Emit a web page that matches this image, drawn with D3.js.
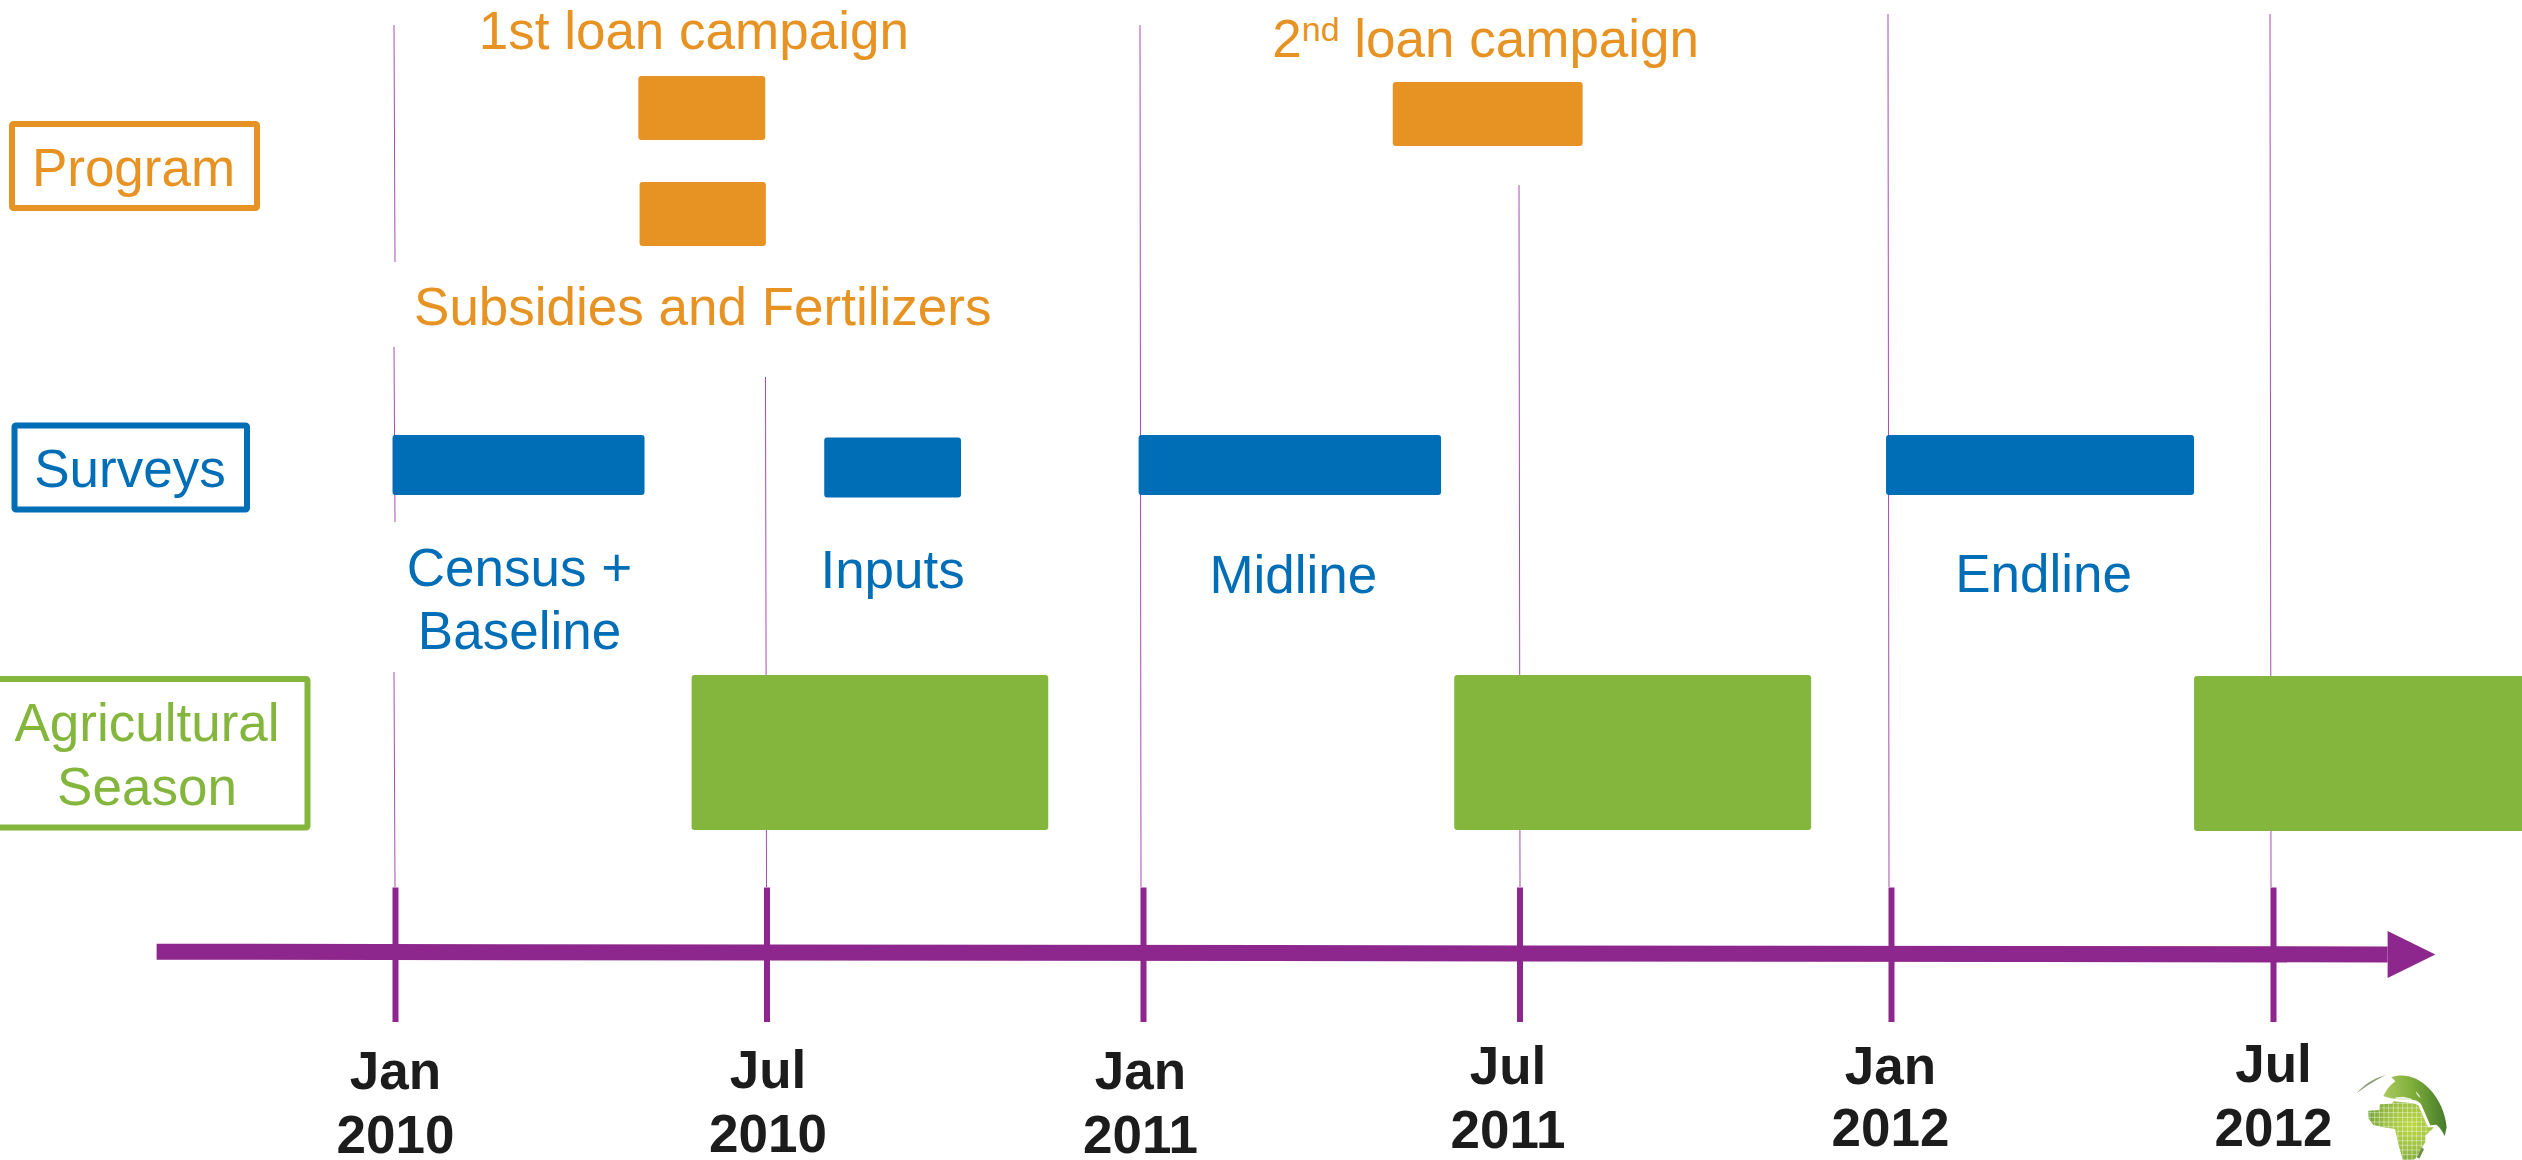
<!DOCTYPE html>
<html>
<head>
<meta charset="utf-8">
<script src="https://cdnjs.cloudflare.com/ajax/libs/d3/7.8.5/d3.min.js"></script>
<style>
  html, body { margin: 0; padding: 0; background: #fff; overflow: hidden; }
  svg { display: block; }
  text { font-family: "Liberation Sans", Arial, sans-serif; }
</style>
</head>
<body>
<div class="svg-container"></div>
<script>
// months counted from Jan 2010
let tickMonths = [0, 6, 12, 18, 24, 30];
let tickLabels = [['Jan', '2010'], ['Jul', '2010'], ['Jan', '2011'], ['Jul', '2011'], ['Jan', '2012'], ['Jul', '2012']];

let programNames = ['loan1', 'subsidy', 'loan2'];
let programStart = [3.93, 3.95, 15.98];
let programEnd = [5.98, 5.99, 19.02];

let surveyNames = ['census', 'inputs', 'midline', 'endline'];
let surveyStart = [-0.04, 6.92, 11.93, 23.92];
let surveyEnd = [4.03, 9.1, 16.75, 28.76];

let seasonNames = ['season1', 'season2', 'season3'];
let seasonStart = [4.79, 16.96, 28.76];
let seasonEnd = [10.49, 22.71, 34.1];

let categories = ['Program', 'Surveys', ['Agricultural', 'Season']];

let guideMonths = [0, 6, 12, 18, 24, 30];

let orange = '#E79323';
let blue = '#006DB7';
let green = '#84B63D';
let purple = '#8D268D';
let fontSize = 53;

let width = 2522;
let height = 1160;

let x = d3.scaleLinear()
  .domain(tickMonths)
  .range([395, 766.5, 1143, 1519.5, 1891, 2273]);

// top edge of each bar
let laneTop = d3.scaleOrdinal()
  .domain(programNames.concat(surveyNames, seasonNames))
  .range([76, 182, 82, 435, 437.5, 435, 435, 675, 675, 676]);

let svg = d3.select('.svg-container')
  .append('svg')
  .attr('width', width)
  .attr('height', height);

// thin guides go first, the bars sit on top of them
let guidePieces = [
  [0, 25, 262], [0, 347, 522], [0, 672, 887],
  [1, 377, 887],
  [2, 25, 887],
  [3, 185, 887],
  [4, 14, 887],
  [5, 14, 887]
];
let guideShift = [-1, -1, -3, -0.5, -3, -3];

svg.append('g')
  .selectAll('line')
  .data(guidePieces)
  .enter()
  .append('line')
  .attr('x1', d => x(guideMonths[d[0]]) + guideShift[d[0]])
  .attr('x2', d => x(guideMonths[d[0]]) + guideShift[d[0]] + 1)
  .attr('y1', d => d[1])
  .attr('y2', d => d[2])
  .attr('stroke', '#A54DAB')
  .attr('stroke-width', 1);

function drawBars (names, start, end, barHeight, color) {
  svg.append('g')
    .selectAll('rect')
    .data(names)
    .enter()
    .append('rect')
    .attr('x', (d, i) => x(start[i]))
    .attr('y', d => laneTop(d))
    .attr('width', (d, i) => x(end[i]) - x(start[i]))
    .attr('height', barHeight)
    .attr('rx', 3)
    .attr('fill', color);
}

drawBars(programNames, programStart, programEnd, 64, orange);
drawBars(surveyNames, surveyStart, surveyEnd, 60, blue);
drawBars(seasonNames, seasonStart, seasonEnd, 155, green);

// category boxes on the left
let boxes = [
  { x: 12, y: 124, w: 245, h: 84, color: orange, lines: [[133.5, 185.5]] },
  { x: 14.5, y: 425.5, w: 232.5, h: 84, color: blue, lines: [[130, 486.5]] },
  { x: -10, y: 679, w: 317.5, h: 148.5, color: green, lines: [[147, 741], [147, 805]] }
];

boxes.forEach((box, i) => {
  svg.append('rect')
    .attr('x', box.x)
    .attr('y', box.y)
    .attr('width', box.w)
    .attr('height', box.h)
    .attr('fill', '#fff')
    .attr('stroke', box.color)
    .attr('stroke-width', 6)
    .attr('rx', 1.5);

  let words = [].concat(categories[i]);
  box.lines.forEach((pos, j) => {
    svg.append('text')
      .attr('x', pos[0])
      .attr('y', pos[1])
      .attr('text-anchor', 'middle')
      .attr('font-size', fontSize)
      .attr('fill', box.color)
      .text(words[j]);
  });
});

function addLabel (text, xPos, y, color) {
  return svg.append('text')
    .attr('x', xPos)
    .attr('y', y)
    .attr('text-anchor', 'middle')
    .attr('font-size', fontSize)
    .attr('fill', color)
    .text(text);
}

function barCentre (start, end, i) {
  return (x(start[i]) + x(end[i])) / 2;
}

addLabel('1st loan campaign', barCentre(programStart, programEnd, 0) - 8, 49, orange);
addLabel('Subsidies and Fertilizers', barCentre(programStart, programEnd, 1), 324.5, orange);

let secondLoan = addLabel('', barCentre(programStart, programEnd, 2) - 2, 56.5, orange);
secondLoan.append('tspan').text('2');
secondLoan.append('tspan').attr('dy', -16).attr('font-size', 34).text('nd');
secondLoan.append('tspan').attr('dy', 16).text(' loan campaign');

addLabel('Census +', barCentre(surveyStart, surveyEnd, 0) + 1, 585.5, blue);
addLabel('Baseline', barCentre(surveyStart, surveyEnd, 0) + 1, 648.5, blue);
addLabel('Inputs', barCentre(surveyStart, surveyEnd, 1), 587.5, blue);
addLabel('Midline', barCentre(surveyStart, surveyEnd, 2) + 3.5, 592.5, blue);
addLabel('Endline', barCentre(surveyStart, surveyEnd, 3) + 3.5, 591.5, blue);

// timeline: shaft, arrow head, then the axis ticks across it
svg.append('line')
  .attr('x1', x(-3.85))
  .attr('x2', x(31.8))
  .attr('y1', 951.7)
  .attr('y2', 954.5)
  .attr('stroke', purple)
  .attr('stroke-width', 16);

svg.append('path')
  .attr('d', d3.line()([[x(31.8), 931], [x(32.55), 954.5], [x(31.8), 978]]) + 'Z')
  .attr('fill', purple);

let labelShift = [0, 1, -3, -12, -1, 0];
let labelFirst = [135, 134, 135, 130, 130, 128];
let labelSecond = [199, 198, 199, 194, 192, 192];

let xAxis = d3.axisBottom()
  .scale(x)
  .tickValues(tickMonths)
  .tickFormat('');

let createXAxis = svg.append('g')
  .attr('class', 'axis')
  .attr('transform', 'translate(0, 954)')
  .call(xAxis);

createXAxis.select('.domain').remove();

createXAxis.selectAll('.tick line')
  .attr('y1', -66.5)
  .attr('y2', 68)
  .attr('stroke', purple)
  .attr('stroke-width', 6);

createXAxis.selectAll('.tick text').each(function (d, i) {
  let label = d3.select(this)
    .attr('y', null)
    .attr('dy', null)
    .attr('font-family', '"Liberation Sans", Arial, sans-serif')
    .attr('font-size', fontSize)
    .attr('font-weight', 'bold')
    .attr('fill', '#1C1C1C')
    .text(null);
  label.append('tspan')
    .attr('x', labelShift[i])
    .attr('y', labelFirst[i])
    .text(tickLabels[i][0]);
  label.append('tspan')
    .attr('x', labelShift[i])
    .attr('y', labelSecond[i])
    .text(tickLabels[i][1]);
});

// little globe in the corner
let defs = svg.append('defs');

let africaFill = defs.append('radialGradient')
  .attr('id', 'africaFill')
  .attr('cx', '65%')
  .attr('cy', '40%')
  .attr('r', '70%');
africaFill.append('stop').attr('offset', '0%').attr('stop-color', '#BDD93F');
africaFill.append('stop').attr('offset', '55%').attr('stop-color', '#9CC043');
africaFill.append('stop').attr('offset', '100%').attr('stop-color', '#72A236');

let northFill = defs.append('linearGradient')
  .attr('id', 'northFill')
  .attr('x1', '5%')
  .attr('y1', '60%')
  .attr('x2', '100%')
  .attr('y2', '55%');
northFill.append('stop').attr('offset', '0%').attr('stop-color', '#A8C85E');
northFill.append('stop').attr('offset', '45%').attr('stop-color', '#7FAE3A');
northFill.append('stop').attr('offset', '100%').attr('stop-color', '#44792A');

let africaShape = 'M55,122 L88,120 L90,103 L125,101 L131,94 L190,100 L205,106 L234,172 L252,172 L226,197 L226,216 L195,268 L160,275 L145,222 L135,177 L100,172 L70,165 L56,146 Z';

defs.append('clipPath')
  .attr('id', 'africaClip')
  .append('path')
  .attr('d', africaShape);

let globe = svg.append('g')
  .attr('transform', 'translate(2350, 1070) scale(0.3333)');

globe.append('path')
  .attr('d', 'M100,78 C110,58 122,44 136,34 L124,22 C160,8 205,20 238,56 C268,88 286,128 290,172 L284,198 C276,180 266,168 258,164 L241,166 L213,102 C205,94 198,90 190,90 C165,88 130,90 100,78 Z')
  .attr('fill', 'url(#northFill)');

// Mediterranean and the lakes are bare white specks
globe.append('path')
  .attr('d', 'M136,82 L160,80 L188,87 L184,90 L138,88 Z M198,64 L208,76 L212,84 L207,81 L199,71 Z')
  .attr('fill', '#fff')
  .attr('fill-opacity', 0.8);

globe.append('path')
  .attr('d', 'M20,70 C40,45 70,25 108,15 C75,32 45,50 20,70 Z')
  .attr('fill', '#8FA07C');

globe.append('path')
  .attr('d', africaShape)
  .attr('fill', 'url(#africaFill)');

let gridLines = globe.append('g')
  .attr('clip-path', 'url(#africaClip)')
  .attr('stroke', '#fff')
  .attr('stroke-opacity', 0.5)
  .attr('stroke-width', 2.5);

gridLines.selectAll('.grid-v')
  .data(d3.range(60, 240, 14))
  .enter()
  .append('line')
  .attr('x1', d => d)
  .attr('x2', d => d)
  .attr('y1', 90)
  .attr('y2', 280);

gridLines.selectAll('.grid-h')
  .data(d3.range(100, 280, 14))
  .enter()
  .append('line')
  .attr('x1', 50)
  .attr('x2', 260)
  .attr('y1', d => d)
  .attr('y2', d => d);

globe.append('path')
  .attr('d', 'M215,232 L200,262 L208,266 L222,238 Z')
  .attr('fill', '#6E9045');
</script>
</body>
</html>
